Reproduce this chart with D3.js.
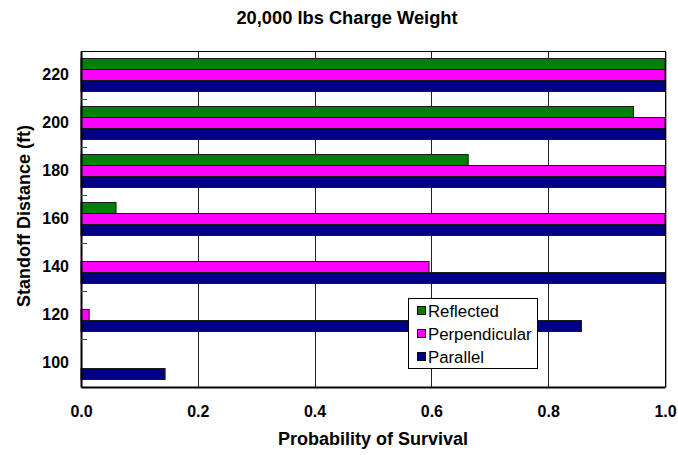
<!DOCTYPE html>
<html>
<head>
<meta charset="utf-8">
<script src="https://cdn.jsdelivr.net/npm/d3@7"></script>
<style>
  html, body { margin: 0; padding: 0; background: #fff; }
  svg { display: block; }
  text { font-family: Arial, "Liberation Sans", sans-serif; }
</style>
</head>
<body>
<svg id="chart" width="678" height="455"></svg>
<script>
const categories = ["220", "200", "180", "160", "140", "120", "100"];
const seriesNames = ["Reflected", "Perpendicular", "Parallel"];
const reflected = [1.0, 0.946, 0.663, 0.060, 0, 0, 0];
const perpendicular = [1.0, 1.0, 1.0, 1.0, 0.596, 0.014, 0];
const parallel = [1.0, 1.0, 1.0, 1.0, 1.0, 0.857, 0.144];
const seriesColors = ["#008000", "#ff00ff", "#000080"];
const xTickValues = [0, 0.2, 0.4, 0.6, 0.8, 1.0];

const titleText = "20,000 lbs Charge Weight";
const xLabel = "Probability of Survival";
const yLabel = "Standoff Distance (ft)";

(function () {
const seriesValues = [reflected, perpendicular, parallel];

const svg = d3.select("#chart");
const pL = 81, pR = 665, pT = 51, pB = 387;

const x = d3.scaleLinear().domain([0, 1]).range([pL, pR]);
const y = d3.scaleBand().domain(categories).range([pT, pB]).padding(0);
const ySub = d3.scaleBand().domain(seriesNames).range([0, y.bandwidth()])
  .paddingInner(0).paddingOuter(0.68);

// title
svg.append("text").attr("x", 347).attr("y", 23.5).attr("text-anchor", "middle")
  .attr("font-size", 18.3).attr("font-weight", "bold").attr("fill", "#000").text(titleText);

// gridlines
svg.append("g").selectAll("line").data(xTickValues.filter(d => d > 0 && d < 1)).join("line")
  .attr("x1", d => Math.round(x(d)) + 0.5).attr("x2", d => Math.round(x(d)) + 0.5).attr("y1", pT).attr("y2", pB)
  .attr("stroke", "#222").attr("stroke-width", 1);

// bars
const rows = [];
categories.forEach((c, i) => {
  seriesNames.forEach((s, j) => {
    rows.push({ cat: c, series: s, value: seriesValues[j][i], color: seriesColors[j] });
  });
});
svg.append("g").selectAll("rect").data(rows.filter(d => d.value > 0)).join("rect")
  .attr("x", x(0))
  .attr("y", d => y(d.cat) + ySub(d.series))
  .attr("width", d => x(d.value) - x(0))
  .attr("height", ySub.bandwidth())
  .attr("fill", d => d.color)
  .attr("stroke", "#1a1a1a").attr("stroke-width", 1);

// frame: top and right thin, plus light shadow
svg.append("line").attr("x1", pL).attr("x2", pR).attr("y1", pT + 0.5).attr("y2", pT + 0.5)
  .attr("stroke", "#000").attr("stroke-width", 1);
svg.append("line").attr("x1", pR + 0.5).attr("x2", pR + 0.5).attr("y1", pT).attr("y2", pB)
  .attr("stroke", "#000").attr("stroke-width", 1);
svg.append("line").attr("x1", pR + 1.5).attr("x2", pR + 1.5).attr("y1", pT + 1).attr("y2", pB + 1)
  .attr("stroke", "#aaa").attr("stroke-width", 1);

// y axis
const yAxis = svg.append("g").attr("transform", `translate(${pL},0)`)
  .call(d3.axisLeft(y).tickSize(0).tickPadding(12));
yAxis.select(".domain").attr("stroke", "#000").attr("stroke-width", 2);
yAxis.selectAll("text").attr("font-size", 16).attr("font-weight", "bold")
  .attr("font-family", "Arial, 'Liberation Sans', sans-serif").attr("fill", "#000");
// inward ticks at category boundaries
svg.append("g").selectAll("line").data(categories.slice(1)).join("line")
  .attr("x1", pL).attr("x2", pL + 6)
  .attr("y1", d => Math.round(y(d)) + 0.5).attr("y2", d => Math.round(y(d)) + 0.5)
  .attr("stroke", "#444").attr("stroke-width", 1);

// x axis
const xAxis = svg.append("g").attr("transform", `translate(0,${pB})`)
  .call(d3.axisBottom(x).tickValues(xTickValues).tickFormat(d3.format(".1f")).tickSize(0).tickPadding(19));
xAxis.select(".domain").attr("stroke", "#000").attr("stroke-width", 2);
xAxis.selectAll("text").attr("font-size", 16).attr("font-weight", "bold")
  .attr("font-family", "Arial, 'Liberation Sans', sans-serif").attr("fill", "#000");

// axis labels
svg.append("text").attr("x", 373).attr("y", 445).attr("text-anchor", "middle")
  .attr("font-size", 18).attr("font-weight", "bold").attr("fill", "#000").text(xLabel);
svg.append("text").attr("transform", "translate(30,216) rotate(-90)").attr("text-anchor", "middle")
  .attr("font-size", 18).attr("font-weight", "bold").attr("fill", "#000").text(yLabel);

// legend
const lg = svg.append("g").attr("transform", "translate(408,298)");
lg.append("rect").attr("x", 0.5).attr("y", 0.5).attr("width", 129).attr("height", 70)
  .attr("fill", "#fff").attr("stroke", "#000").attr("stroke-width", 1);
seriesNames.forEach((s, i) => {
  const cy = 13 + i * 23;
  lg.append("rect").attr("x", 9.5).attr("y", cy - 4.5).attr("width", 8).attr("height", 8)
    .attr("fill", seriesColors[i]).attr("stroke", "#000").attr("stroke-width", 1);
  lg.append("text").attr("x", 20).attr("y", cy + 6).attr("font-size", 16.8)
    .attr("fill", "#000").text(s);
});
})();
</script>
</body>
</html>
